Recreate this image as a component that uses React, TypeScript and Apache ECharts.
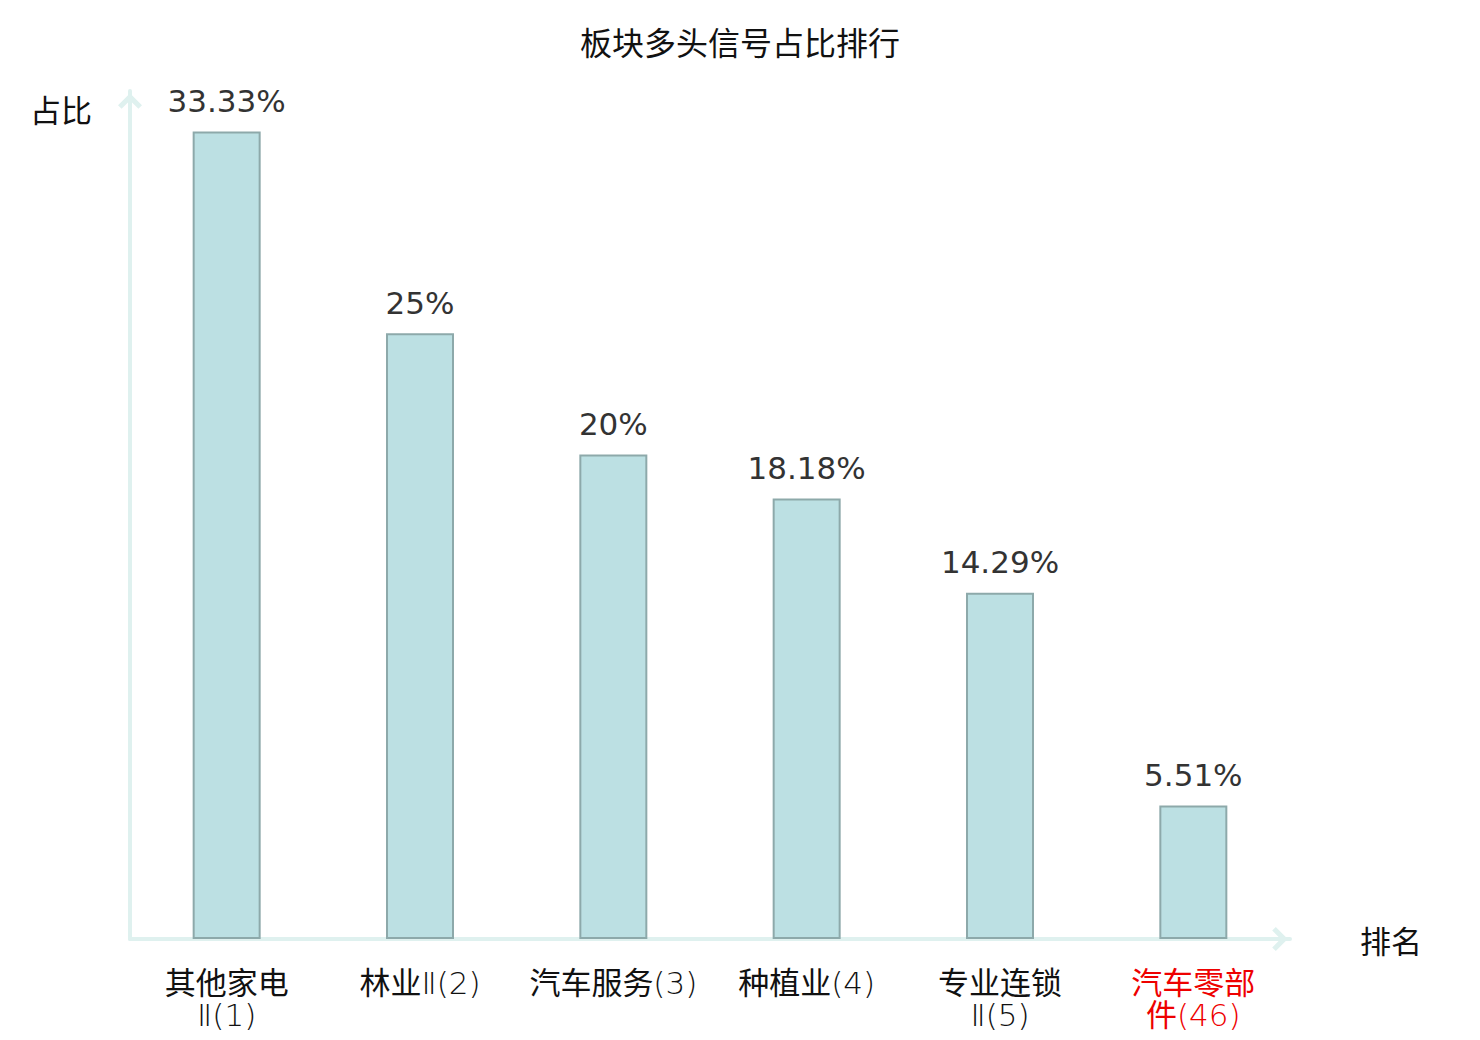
import React, { useEffect, useRef } from "react";
import * as echarts from "echarts";

const title = "板块多头信号占比排行";
const categories = ["其他家电\nⅡ(1)", "林业Ⅱ(2)", "汽车服务(3)", "种植业(4)", "专业连锁\nⅡ(5)", "汽车零部\n件(46)"];
const values = [33.33, 25, 20, 18.18, 14.29, 5.51];
const highlightIndex = 5;
const yName = "占比";
const xName = "排名";

const CJK = "'Noto Sans CJK SC', 'Noto Sans', sans-serif";
const LIGHT = "'DejaVu Sans', 'Noto Sans CJK SC', sans-serif";
const LATIN = "'DejaVu Sans', 'Noto Sans CJK SC', sans-serif";
const axisColor = "#dff1ef";
const chevron = "path://M10,0 L20,10 L17,13 L10,6 L3,13 L0,10 Z";

const isCJK = (ch: string) => /[\u4e00-\u9fff]/.test(ch);

function toRich(label: string, red: boolean): string {
  return label
    .split("\n")
    .map((line) => {
      let out = "";
      let run = "";
      let runCJK: boolean | null = null;
      for (const ch of line) {
        const c = isCJK(ch);
        if (runCJK !== null && c !== runCJK) {
          out += `{${runCJK ? "c" : "l"}${red ? "R" : ""}|${run}}`;
          run = "";
        }
        run += ch;
        runCJK = c;
      }
      if (run) out += `{${runCJK ? "c" : "l"}${red ? "R" : ""}|${run}}`;
      return out;
    })
    .join("\n");
}

export default function App() {
  const ref = useRef<HTMLDivElement>(null);
  useEffect(() => {
    document.body.style.margin = "0";
    if (!ref.current) return;
    const chart = echarts.init(ref.current, undefined, { renderer: "svg" });
    const base = { fontSize: 31, lineHeight: 32, fontFamily: LIGHT };
    chart.setOption({
      animation: false,
      backgroundColor: "#ffffff",
      title: {
        text: title,
        left: "center",
        top: 20,
        textStyle: { fontFamily: CJK, fontSize: 32, fontWeight: "normal", color: "#111" },
      },
      grid: { left: 130, right: 190, top: 91, bottom: 101 },
      xAxis: {
        type: "category",
        data: categories,
        name: xName,
        nameLocation: "end",
        nameGap: 70,
        nameTextStyle: { fontFamily: CJK, fontSize: 31, color: "#111", verticalAlign: "middle" },
        axisLine: {
          show: true,
          symbol: ["none", chevron],
          symbolSize: [24, 22],
          symbolOffset: [0, -10],
          lineStyle: { color: axisColor, width: 4 },
        },
        axisTick: { show: false },
        axisLabel: {
          interval: 0,
          margin: 28,
          fontFamily: LIGHT,
          fontSize: 31,
          lineHeight: 32,
          formatter: (v: string, i: number) => toRich(v, i === highlightIndex),
          rich: {
            c: { ...base, fontWeight: "normal", color: "#111" },
            l: { ...base, fontWeight: 200, color: "#111" },
            cR: { ...base, fontWeight: "normal", color: "#ee0000" },
            lR: { ...base, fontWeight: 200, color: "#ee0000" },
          },
        },
        splitLine: { show: false },
      },
      yAxis: {
        type: "value",
        min: 0,
        max: 35,
        name: yName,
        nameLocation: "end",
        nameGap: 0,
        nameTextStyle: {
          fontFamily: CJK,
          fontSize: 31,
          color: "#111",
          align: "right",
          verticalAlign: "top",
          padding: [2, 38, 0, 0],
        },
        axisLine: {
          show: true,
          symbol: ["none", chevron],
          symbolSize: [24, 22],
          symbolOffset: [0, -10],
          lineStyle: { color: axisColor, width: 4 },
        },
        axisTick: { show: false },
        axisLabel: { show: false },
        splitLine: { show: false },
      },
      series: [
        {
          type: "bar",
          data: values,
          barWidth: 68,
          itemStyle: { color: "#bce0e3", borderColor: "#8da9aa", borderWidth: 2 },
          label: {
            show: true,
            position: "top",
            distance: 15,
            fontFamily: LATIN,
            fontSize: 31,
            color: "#333",
            formatter: (p: any) => `${p.value}%`,
          },
        },
      ],
    });
    return () => chart.dispose();
  }, []);
  return <div ref={ref} style={{ width: 1480, height: 1040 }} />;
}
